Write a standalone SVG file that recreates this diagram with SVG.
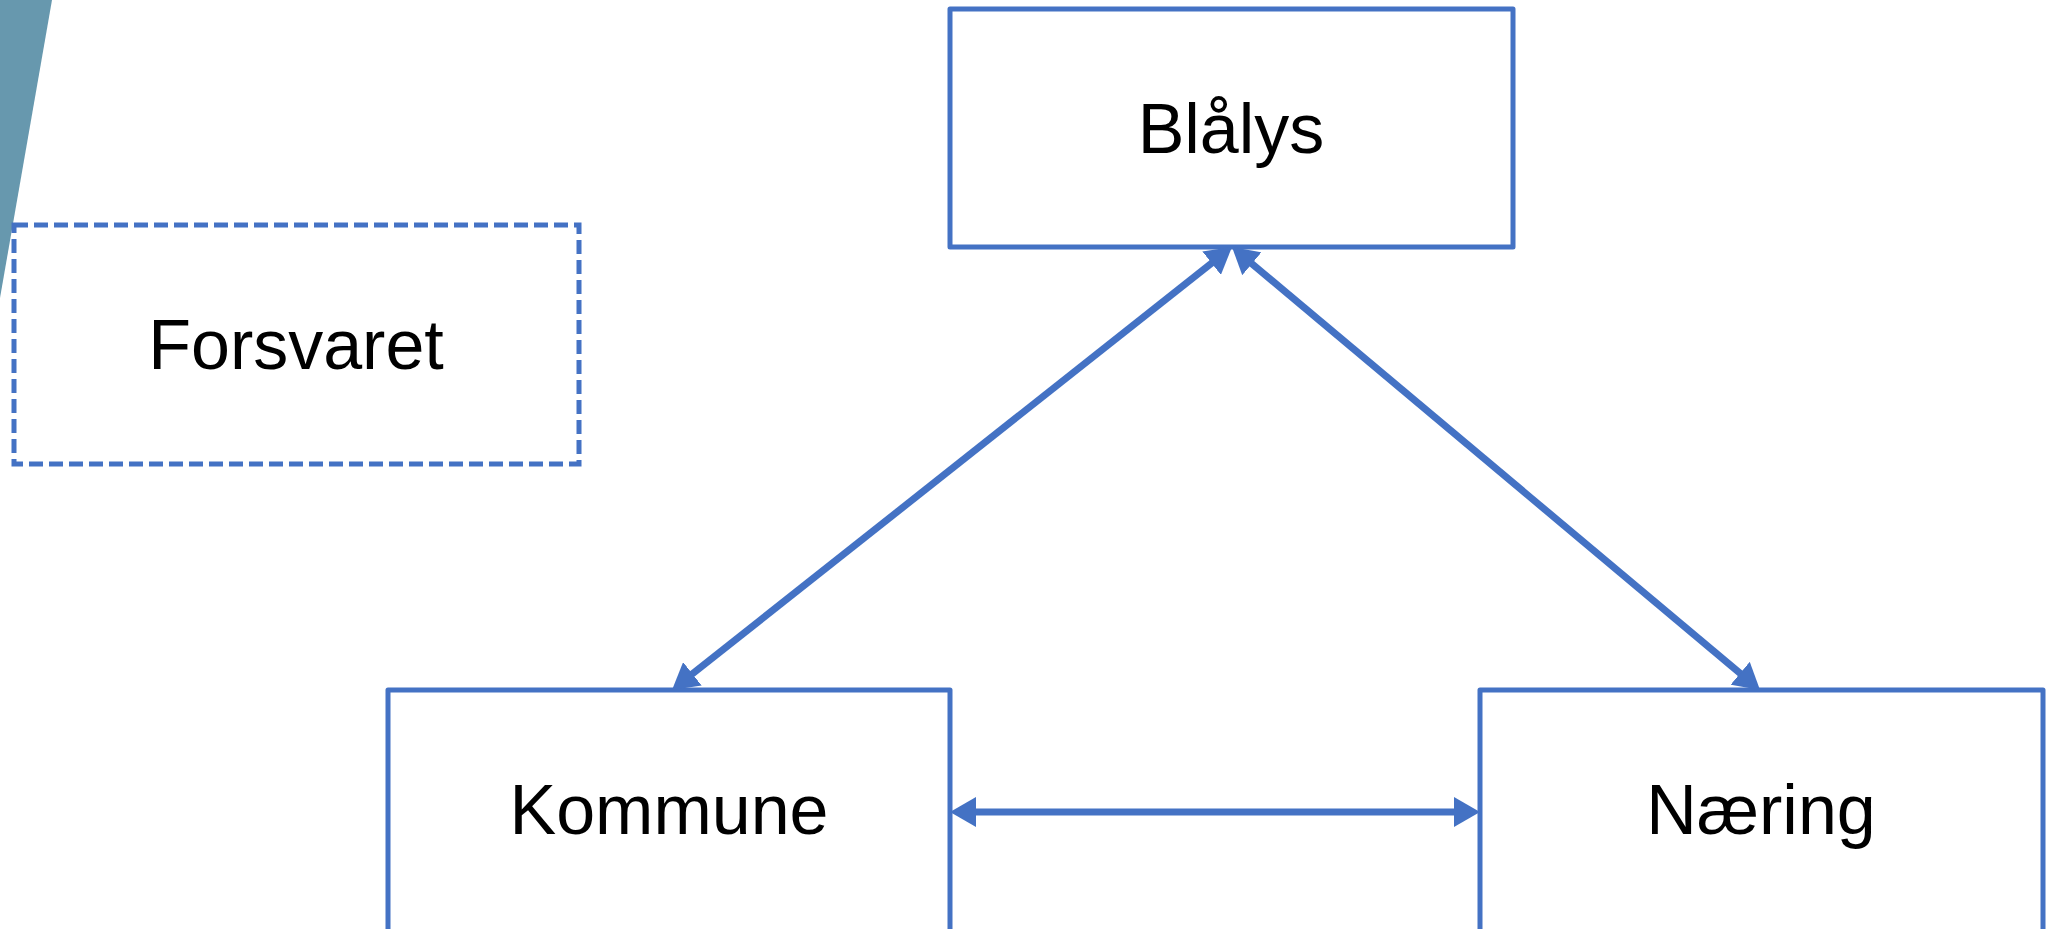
<svg xmlns="http://www.w3.org/2000/svg" width="2057" height="929" viewBox="0 0 2057 929">
<style>
.box{fill:#fff;stroke:#4472C4;stroke-width:5;stroke-linejoin:round}
.dash{fill:#fff;stroke:#4472C4;stroke-width:5;stroke-dasharray:14 6}
.lbl{font-family:"Liberation Sans",Arial,sans-serif;font-size:70px;fill:#000;text-anchor:middle}
.conn{stroke:#4472C4;stroke-width:7;fill:none;marker-start:url(#ah);marker-end:url(#ah)}
</style>
<defs>
<marker id="ah" viewBox="0 0 26 30" refX="12" refY="15" markerWidth="26" markerHeight="30" markerUnits="userSpaceOnUse" orient="auto-start-reverse">
<path d="M0,0 L26,15 L0,30 z" fill="#4472C4"/>
</marker>
</defs>
<rect width="2057" height="929" fill="#fff"/>
<polygon points="0,0 52,0 0,298" fill="#6798AE"/>
<g id="forsvaret">
<rect class="dash" x="14" y="225" width="565" height="239"/>
<text class="lbl" x="296" y="369">Forsvaret</text>
</g>
<g id="blalys">
<rect class="box" x="950" y="9" width="563" height="238"/>
<text class="lbl" x="1231" y="153">Blålys</text>
</g>
<g id="kommune">
<rect class="box" x="388" y="690" width="562" height="242"/>
<text class="lbl" x="669" y="834">Kommune</text>
</g>
<g id="naering">
<rect class="box" x="1480" y="690" width="563" height="242"/>
<text class="lbl" x="1761" y="834">Næring</text>
</g>
<g id="connectors">
<line class="conn" x1="1221.0" y1="255.7" x2="683.0" y2="681.3"/>
<line class="conn" x1="1242.7" y1="256.0" x2="1749.3" y2="681.0"/>
<line class="conn" x1="964" y1="812" x2="1466" y2="812"/>
</g>
</svg>
